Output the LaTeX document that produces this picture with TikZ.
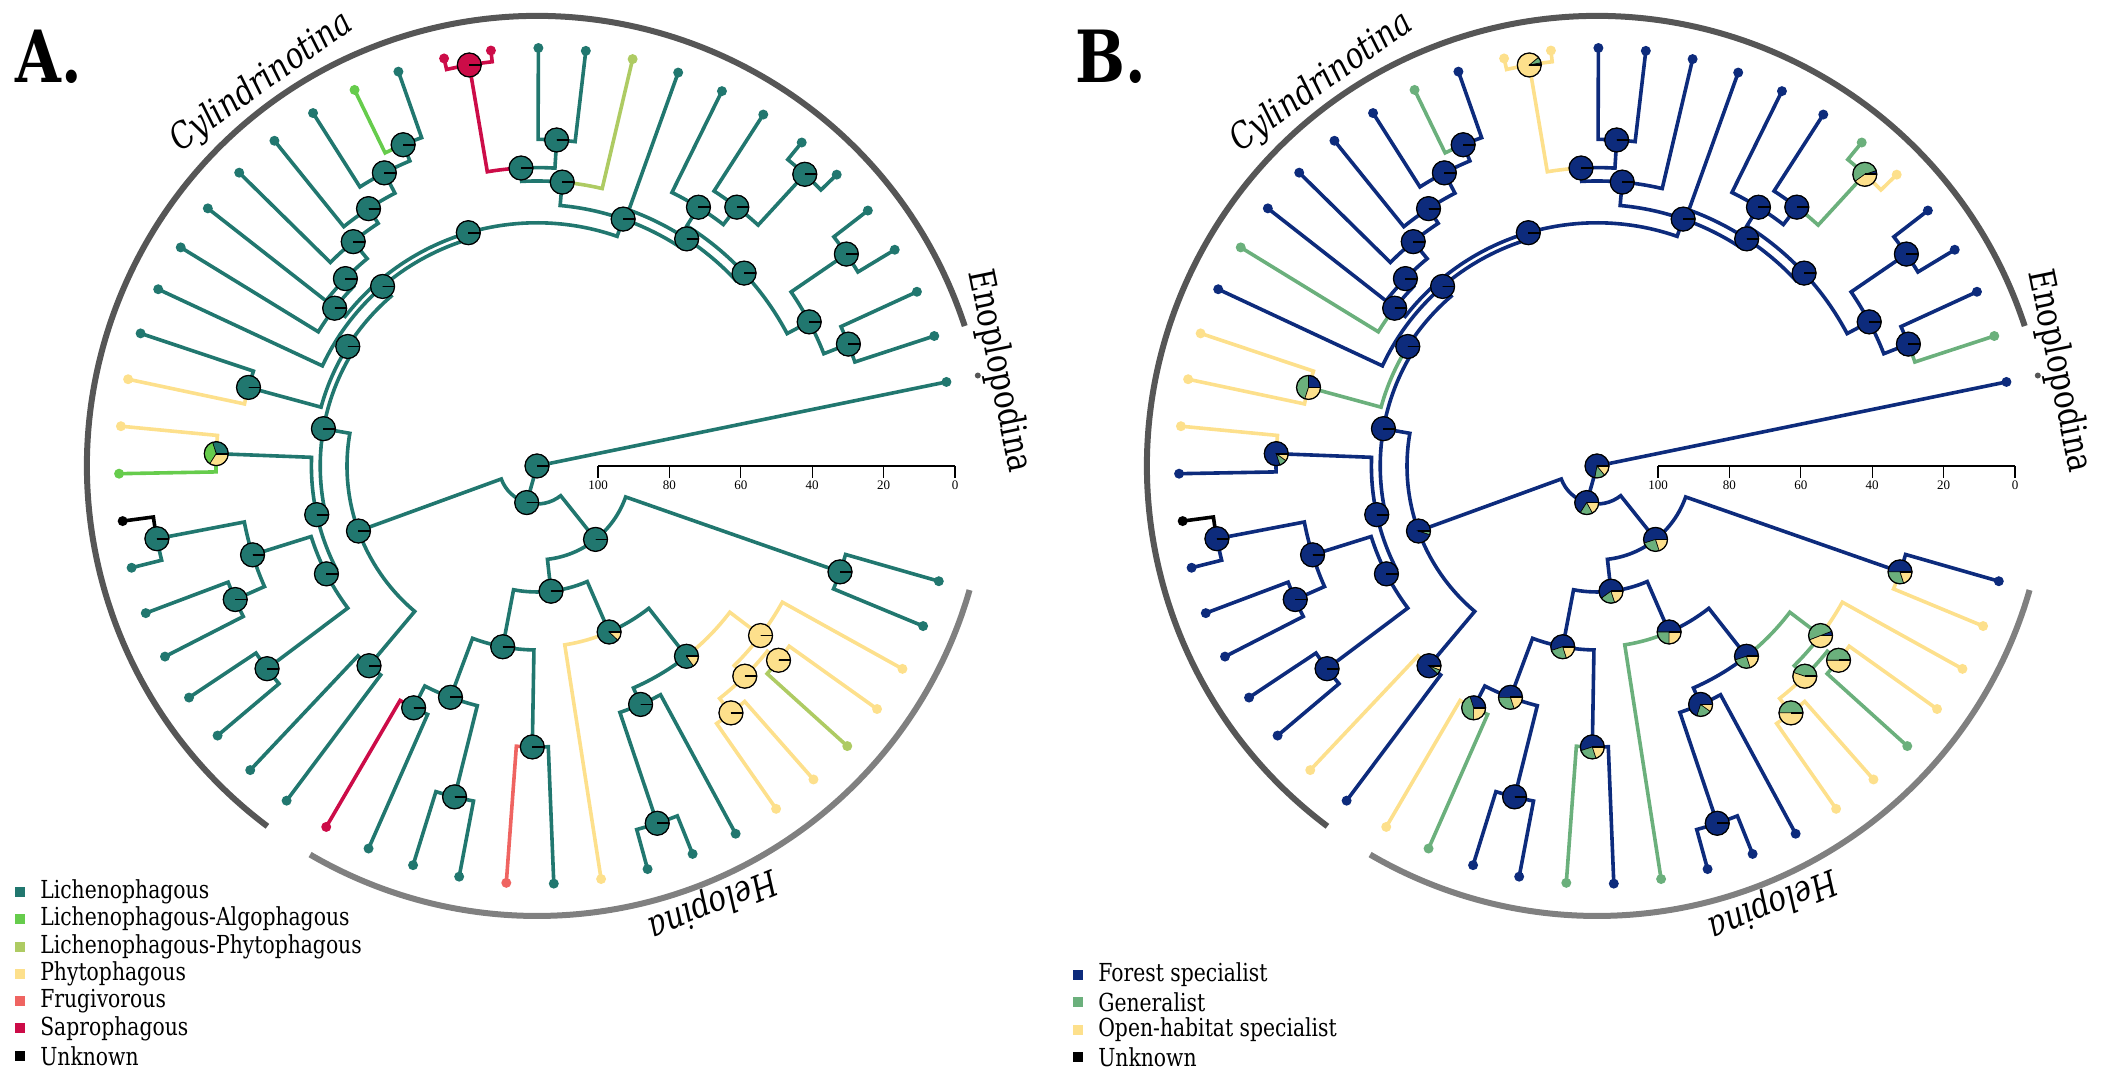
\documentclass[tikz,border=0pt]{standalone}
\usepackage{fontspec}
\setmainfont{Liberation Serif}
\newfontfamily\slabfont[FakeStretch=0.82]{DejaVu Serif}
\usepackage{tikz}
\usetikzlibrary{positioning}

% diet states (panel A)
\definecolor{lic}{HTML}{21776F}
\definecolor{alg}{HTML}{66CC4C}
\definecolor{lph}{HTML}{AECB63}
\definecolor{phy}{HTML}{FDE08C}
\definecolor{fru}{HTML}{EF6461}
\definecolor{sap}{HTML}{CC0C48}
\colorlet{unk}{black}
% habitat states (panel B)
\definecolor{fst}{HTML}{0D2B7C}
\definecolor{gen}{HTML}{6BB07C}
\definecolor{opn}{HTML}{FDE08C}
% clade bars
\definecolor{bardark}{HTML}{565656}
\definecolor{barlight}{HTML}{808080}

% every vertex of the tree keeps its angle and radius under its name
\newcommand{\setvert}[3]{%
  \expandafter\xdef\csname th@#1\endcsname{#2}%
  \expandafter\xdef\csname rr@#1\endcsname{#3}%
  \coordinate (#1) at (#2:#3);}
\newcommand{\thof}[1]{\csname th@#1\endcsname}
\newcommand{\rof}[1]{\csname rr@#1\endcsname}
% inner vertex sits half way between the angles of its two children
\newcommand{\joinvert}[4]{%
  \pgfmathsetmacro\jth{(\thof{#2}+\thof{#3})/2}%
  \setvert{#1}{\jth}{#4}}
% pie of state probabilities: vertex, slices in A, slices in B
\newcommand{\statepie}[3]{%
  \ifnum\panel=1 \def\slices{#2}\else\def\slices{#3}\fi
  \xdef\pa{0}%
  \foreach \pc/\pf in \slices {%
    \pgfmathsetmacro\pb{\pa+360*\pf}%
    \filldraw[pieslice, fill=\pc] (#1) -- ++(\pa:12)
      arc[start angle=\pa, end angle=\pb, radius=12] -- cycle;
    \xdef\pa{\pb}}%
  \draw[pierim] (#1) circle[radius=12];
  \draw[pieray] (#1) -- ++(0:12);}

\begin{document}
\begin{tikzpicture}[x=0.5pt, y=0.5pt,
    branch/.style={line width=1.8pt},
    pieslice/.style={draw=black, line width=0.3pt},
    pierim/.style={draw=black, line width=0.6pt},
    pieray/.style={draw=black, line width=0.9pt},
    cladebar/.style={line width=3pt},
    cladelab/.style={font=\slabfont\fontsize{18}{20}\selectfont, anchor=south, inner sep=1pt},
    axnum/.style={font=\fontsize{6.5}{7}\selectfont, below, inner sep=1pt},
    legkey/.style={minimum width=5pt, minimum height=5pt, inner sep=0pt},
    legtext/.style={font=\slabfont\fontsize{12.4}{14}\selectfont, inner sep=0pt}]

\useasboundingbox (0,0) rectangle (2104,1068);

\foreach \panel/\cx/\pfx/\letter in {1/537/A-/A., 2/1597/B-/B.} {
\begin{scope}[shift={(\cx,602)}, name prefix/.expanded=\pfx]

% Tips (52, evenly spaced, all at the present)
\foreach \i in {0,...,51} {
    \pgfmathsetmacro\tth{11.6+6.5176*\i}
    \setvert{tp\i}{\tth}{418}
}

% Inner vertices: name, two children, radius
\joinvert{cy1}{tp1}{tp2}{334.4}
\joinvert{cy2}{tp3}{tp4}{375}
\joinvert{cy3}{cy2}{cy1}{308}
\joinvert{cy4}{tp5}{tp6}{396}
\joinvert{cy5}{tp7}{cy4}{327}
\joinvert{cy6}{tp8}{cy5}{305}
\joinvert{cy7}{cy6}{cy3}{283}
\joinvert{cy8}{tp9}{cy7}{272}
\joinvert{cy9}{tp11}{tp12}{326.6}
\joinvert{cy10}{tp13}{tp14}{406.7}
\joinvert{cy11}{cy9}{cy10}{298.4}
\joinvert{cy12}{cy11}{tp10}{285}
\joinvert{cy13}{cy12}{cy8}{261.5}
\joinvert{cy14}{tp15}{tp16}{348}
\joinvert{cy15}{cy14}{tp17}{330.5}
\joinvert{cy16}{cy15}{tp18}{307.6}
\joinvert{cy17}{cy16}{tp19}{290}
\joinvert{cy18}{cy17}{tp20}{268}
\joinvert{cy19}{cy18}{tp21}{256.6}
\joinvert{cy20}{cy13}{cy19}{243.2}
\joinvert{cy21}{cy20}{tp22}{236.8}
\joinvert{cy22}{tp23}{tp24}{299}
\joinvert{cy23}{cy21}{cy22}{223.8}
\joinvert{cy24}{tp25}{tp26}{321}
\joinvert{cy25}{tp27}{tp28}{387}
\joinvert{cy26}{tp29}{tp30}{330}
\joinvert{cy27}{cy25}{cy26}{298}
\joinvert{cy28}{tp31}{tp32}{337.6}
\joinvert{cy29}{cy27}{cy28}{236.6}
\joinvert{cy30}{cy24}{cy29}{225.6}
\joinvert{cy31}{cy23}{cy30}{216.8}
\joinvert{cy32}{tp33}{tp34}{261}
\joinvert{cy33}{cy31}{cy32}{190}
\joinvert{he1}{tp35}{tp36}{271.5}
\joinvert{he2}{tp37}{tp38}{341}
\joinvert{he3}{he1}{he2}{247}
\joinvert{he4}{tp39}{tp40}{281}
\joinvert{he5}{he3}{he4}{184}
\joinvert{he6}{tp42}{tp43}{377}
\joinvert{he7}{he6}{tp44}{260}
\joinvert{he8}{tp45}{tp46}{314}
\joinvert{he9}{tp47}{tp48}{310}
\joinvert{he10}{he9}{he8}{295.6}
\joinvert{he11}{tp49}{he10}{280.6}
\joinvert{he12}{he11}{he7}{242}
\joinvert{he13}{tp41}{he12}{181}
\joinvert{he14}{he5}{he13}{126}
\joinvert{he15}{tp50}{tp51}{321}
\joinvert{he16}{he14}{he15}{93.9}
\joinvert{core}{cy33}{he16}{38}
\setvert{root}{0}{0}

% Clade bars and names
\pgfmathsetmacro\mcyl{(\thof{tp1}+\thof{tp34})/2}
\pgfmathsetmacro\mhel{(\thof{tp35}+\thof{tp51})/2}
\draw[cladebar, bardark] (\thof{tp1}:450) arc[start angle=\thof{tp1}, end angle=\thof{tp34}, radius=450];
\draw[cladebar, barlight] (\thof{tp35}:450) arc[start angle=\thof{tp35}, end angle=\thof{tp51}, radius=450];
\fill[bardark] (\thof{tp0}:450) circle[radius=3];
\node[cladelab, rotate=\mcyl-90] (cyllab) at (\mcyl:452) {\itshape Cylindrinotina};
\node[cladelab, rotate=\thof{tp0}-90] (enolab) at (\thof{tp0}:452) {Enoplopodina};
\node[cladelab, rotate=\mhel-90] (hellab) at (\mhel:452) {\itshape Helopina};

% Time axis
\draw[line width=0.6pt] (61,0) -- (418,0);
\foreach \v in {0,20,...,100}
    \draw[line width=0.6pt] ({418-3.57*\v},0) -- ++(0,-12) node[axnum] (tick\v) {\v};

% Panel letter
\node[font=\slabfont\bfseries\fontsize{36}{40}\selectfont, anchor=base west, inner sep=0pt] (panel) at (-522,383) {\letter};

% Branches: parent/child/colour in A/colour in B
\ifnum\panel=1 \def\bc{lic}\else\def\bc{fst}\fi
\draw[branch, draw=\bc] (tp0) -- (root) -- (core);
\fill[fill=\bc] (tp0) circle[radius=5];
\foreach \p/\c/\ca/\cb in {
    cy1/tp1/lic/gen, cy1/tp2/lic/fst, cy2/tp3/lic/fst, cy2/tp4/lic/fst,
    cy3/cy2/lic/fst, cy3/cy1/lic/fst, cy4/tp5/lic/opn, cy4/tp6/lic/gen,
    cy5/tp7/lic/fst, cy5/cy4/lic/gen, cy6/tp8/lic/fst, cy6/cy5/lic/fst,
    cy7/cy6/lic/fst, cy7/cy3/lic/fst, cy8/tp9/lic/fst, cy8/cy7/lic/fst,
    cy9/tp11/lic/fst, cy9/tp12/lic/fst, cy10/tp13/sap/opn, cy10/tp14/sap/opn,
    cy11/cy9/lic/fst, cy11/cy10/sap/opn, cy12/cy11/lic/fst, cy12/tp10/lph/fst,
    cy13/cy12/lic/fst, cy13/cy8/lic/fst, cy14/tp15/lic/fst, cy14/tp16/alg/gen,
    cy15/cy14/lic/fst, cy15/tp17/lic/fst, cy16/cy15/lic/fst, cy16/tp18/lic/fst,
    cy17/cy16/lic/fst, cy17/tp19/lic/fst, cy18/cy17/lic/fst, cy18/tp20/lic/fst,
    cy19/cy18/lic/fst, cy19/tp21/lic/gen, cy20/cy13/lic/fst, cy20/cy19/lic/fst,
    cy21/cy20/lic/fst, cy21/tp22/lic/fst, cy22/tp23/lic/opn, cy22/tp24/phy/opn,
    cy23/cy21/lic/fst, cy23/cy22/lic/gen, cy24/tp25/phy/opn, cy24/tp26/alg/fst,
    cy25/tp27/unk/unk, cy25/tp28/lic/fst, cy26/tp29/lic/fst, cy26/tp30/lic/fst,
    cy27/cy25/lic/fst, cy27/cy26/lic/fst, cy28/tp31/lic/fst, cy28/tp32/lic/fst,
    cy29/cy27/lic/fst, cy29/cy28/lic/fst, cy30/cy24/lic/fst, cy30/cy29/lic/fst,
    cy31/cy23/lic/fst, cy31/cy30/lic/fst, cy32/tp33/lic/opn, cy32/tp34/lic/fst,
    cy33/cy31/lic/fst, cy33/cy32/lic/fst,
    he1/tp35/sap/opn, he1/tp36/lic/gen, he2/tp37/lic/fst, he2/tp38/lic/fst,
    he3/he1/lic/fst, he3/he2/lic/fst, he4/tp39/fru/gen, he4/tp40/lic/fst,
    he5/he3/lic/fst, he5/he4/lic/fst, he6/tp42/lic/fst, he6/tp43/lic/fst,
    he7/he6/lic/fst, he7/tp44/lic/fst, he8/tp45/phy/opn, he8/tp46/phy/opn,
    he9/tp47/lph/gen, he9/tp48/phy/opn, he10/he9/phy/gen, he10/he8/phy/opn,
    he11/tp49/phy/opn, he11/he10/phy/gen, he12/he11/phy/gen, he12/he7/lic/fst,
    he13/tp41/phy/gen, he13/he12/lic/fst, he14/he5/lic/fst, he14/he13/lic/fst,
    he15/tp50/lic/opn, he15/tp51/lic/fst, he16/he14/lic/fst, he16/he15/lic/fst,
    core/cy33/lic/fst, core/he16/lic/fst} {
    \ifnum\panel=1 \def\bc{\ca}\else\def\bc{\cb}\fi
    \draw[branch, draw=\bc] (\p) arc[start angle=\thof{\p}, end angle=\thof{\c}, radius=\rof{\p}] -- (\c);
    \fill[fill=\bc] (\c) circle[radius=5];
}

% Ancestral state pies
\foreach \v in {cy1,cy2,cy3,cy5,cy6,cy7,cy8,cy9,cy11,cy12,cy13,cy14,cy15,cy16,cy17,
    cy18,cy19,cy20,cy21,cy23,cy25,cy26,cy27,cy28,cy29,cy30,cy31,he2,he6}
    {\statepie{\v}{lic/1}{fst/1}}
\statepie{root}{lic/1}{fst/.72,gen/.14,opn/.14}
\statepie{core}{lic/1}{fst/.66,gen/.17,opn/.17}
\statepie{cy4}{lic/1}{fst/.05,gen/.55,opn/.40}
\statepie{cy10}{sap/1}{fst/.03,gen/.08,opn/.89}
\statepie{cy22}{lic/1}{fst/.25,gen/.45,opn/.30}
\statepie{cy24}{lic/.30,alg/.36,phy/.34}{fst/.80,gen/.10,opn/.10}
\statepie{cy32}{lic/1}{fst/.88,gen/.06,opn/.06}
\statepie{cy33}{lic/1}{fst/.95,gen/.05}
\statepie{he1}{lic/1}{fst/.30,gen/.45,opn/.25}
\statepie{he3}{lic/1}{fst/.50,gen/.30,opn/.20}
\statepie{he4}{lic/1}{fst/.55,gen/.25,opn/.20}
\statepie{he5}{lic/1}{fst/.55,gen/.25,opn/.20}
\statepie{he7}{lic/1}{fst/.70,gen/.20,opn/.10}
\statepie{he8}{phy/1}{gen/.50,opn/.50}
\statepie{he9}{phy/1}{gen/.50,opn/.50}
\statepie{he10}{phy/1}{gen/.45,opn/.55}
\statepie{he11}{phy/1}{fst/.06,gen/.50,opn/.44}
\statepie{he12}{lic/.85,phy/.15}{fst/.55,gen/.25,opn/.20}
\statepie{he13}{lic/.88,phy/.12}{fst/.50,gen/.25,opn/.25}
\statepie{he14}{lic/1}{fst/.60,gen/.20,opn/.20}
\statepie{he15}{lic/1}{fst/.50,gen/.30,opn/.20}
\statepie{he16}{lic/1}{fst/.55,gen/.25,opn/.20}

\end{scope}
}

% Legend, panel A
\foreach \col/\txt [count=\k] in {lic/Lichenophagous, alg/Lichenophagous-Algophagous,
    lph/Lichenophagous-Phytophagous, phy/Phytophagous, fru/Frugivorous, sap/Saprophagous, unk/Unknown} {
    \node[legkey, fill=\col] (keyA\k) at (19.5,{176-27.3*(\k-1)}) {};
    \node[legtext, right=7.5pt of keyA\k] (labA\k) {\txt};
}
% Legend, panel B
\foreach \col/\txt [count=\k] in {fst/Forest specialist, gen/Generalist, opn/Open-habitat specialist, unk/Unknown} {
    \node[legkey, fill=\col] (keyB\k) at (1077.5,{93-27.3*(\k-1)}) {};
    \node[legtext, right=7.5pt of keyB\k] (labB\k) {\txt};
}

\end{tikzpicture}
\end{document}
